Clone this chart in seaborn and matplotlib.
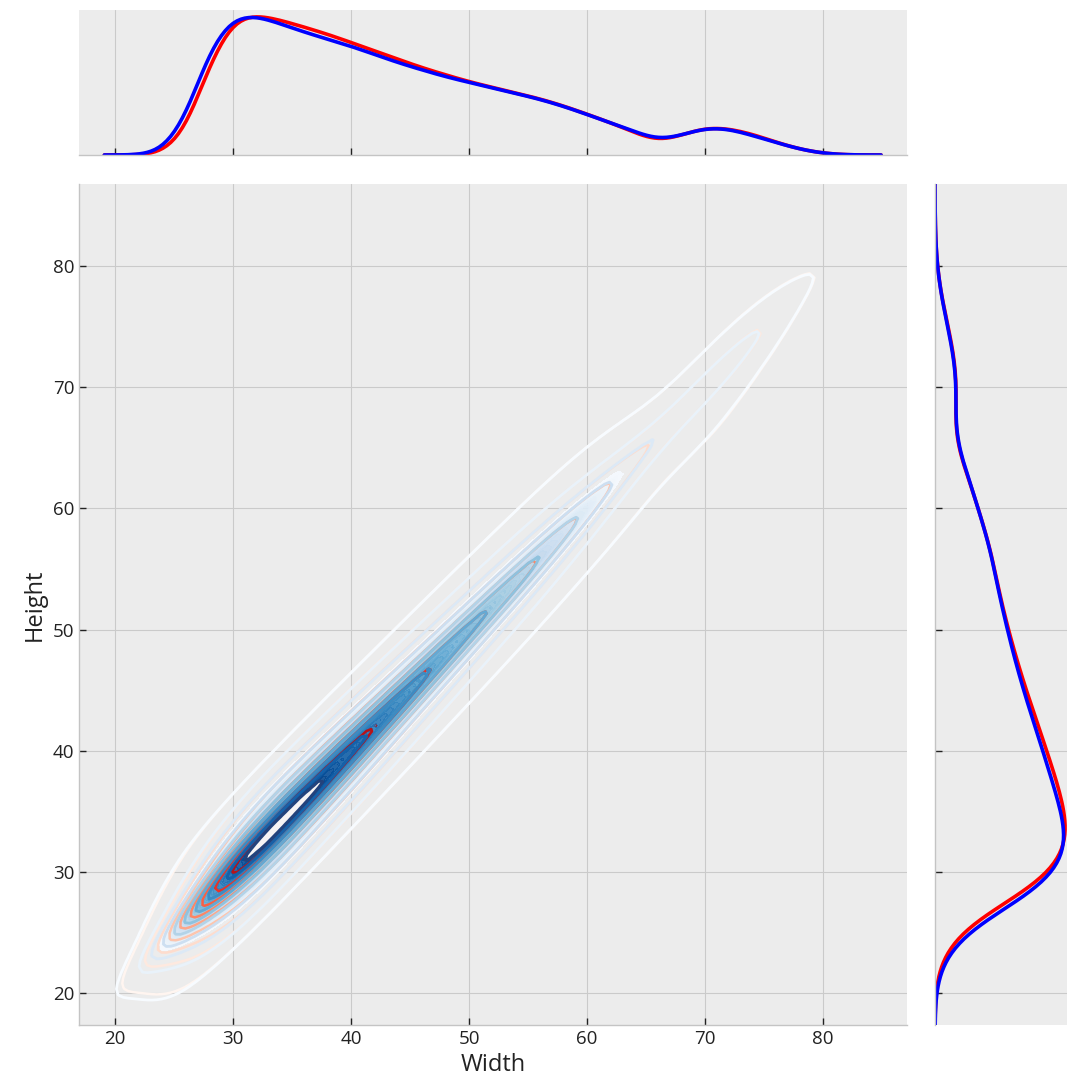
import numpy as np
import pandas as pd
import matplotlib
matplotlib.use("Agg")
import matplotlib.pyplot as plt
from matplotlib.colors import ListedColormap
import seaborn as sns

# ---------------- data ----------------
widths = [24, 26, 28, 30, 32, 34, 36, 38, 40, 42, 44, 46, 48, 50, 52,
          54, 56, 58, 60, 62, 64, 66, 68, 70, 72, 74, 76, 78, 80]
red_weights = [0.01, 0.15, 0.66, 0.98, 1.00, 0.96, 0.91, 0.86, 0.80, 0.74,
               0.68, 0.62, 0.57, 0.52, 0.48, 0.44, 0.40, 0.35, 0.29, 0.23,
               0.16, 0.09, 0.14, 0.20, 0.19, 0.15, 0.09, 0.04, 0.01]
blue_weights = [0.02, 0.24, 0.78, 1.00, 1.00, 0.94, 0.88, 0.83, 0.78, 0.72,
                0.66, 0.61, 0.56, 0.52, 0.48, 0.44, 0.40, 0.35, 0.29, 0.23,
                0.17, 0.10, 0.14, 0.20, 0.19, 0.14, 0.09, 0.04, 0.01]
height_offsets = [-10, -9, -8, -7, -6, -5, -4, -3, -2, -1, 0, 1, 2, 3, 4, 5, 6]
# share of each width's mass at each height offset (main / large widths)
profile_main = [0.0, 0.0, 0.0, 0.0, 0.015, 0.025, 0.04, 0.06, 0.09, 0.15,
                0.24, 0.15, 0.09, 0.06, 0.04, 0.025, 0.015]
profile_large = [0.02, 0.025, 0.03, 0.035, 0.04, 0.04, 0.045, 0.06, 0.09,
                 0.13, 0.20, 0.12, 0.075, 0.04, 0.025, 0.015, 0.01]
large_from_width = 64


def build(weights):
    rows = []
    for w, wt in zip(widths, weights):
        prof = profile_large if w >= large_from_width else profile_main
        for o, p in zip(height_offsets, prof):
            if p > 0:
                rows.append((w, w + o, wt * p))
    return pd.DataFrame(rows, columns=["Width", "Height", "weight"])


red = build(red_weights)
blue = build(blue_weights)

# ---------------- style ----------------
sns.set_style("whitegrid")
plt.rcParams.update({
    "font.family": ["Open Sans", "DejaVu Sans"],
    "axes.facecolor": "#ececec",
    "axes.edgecolor": "#c4c4c4",
    "axes.linewidth": 1.0,
    "grid.color": "#cacaca",
    "grid.linewidth": 0.8,
    "grid.linestyle": "-",
    "xtick.direction": "in",
    "ytick.direction": "in",
    "xtick.color": "#222222",
    "ytick.color": "#222222",
    "xtick.major.size": 5,
    "ytick.major.size": 5,
    "xtick.major.width": 1.0,
    "ytick.major.width": 1.0,
    "xtick.bottom": True,
    "ytick.left": True,
    "xtick.labelsize": 13.5,
    "ytick.labelsize": 13.5,
    "axes.labelsize": 17,
    "text.color": "#222222",
    "axes.labelcolor": "#222222",
})

g = sns.JointGrid(height=10)
g.figure.set_size_inches(10.67, 10.83)
ax = g.ax_joint
mx = g.ax_marg_x
my = g.ax_marg_y

W, H = 1067.0, 1083.0
ax.set_position([79 / W, (H - 1025) / H, 828 / W, 841 / H])
mx.set_position([79 / W, (H - 155) / H, 828 / W, 145 / H])
my.set_position([935 / W, (H - 1025) / H, 132 / W, 841 / H])

# joint KDEs
bw_joint = 0.65
kw = dict(x="Width", y="Height", weights="weight", ax=ax, bw_adjust=bw_joint)
sns.kdeplot(data=red, fill=False, cmap="Reds", levels=10, thresh=0.05,
            linewidths=1.8, **kw)
sns.kdeplot(data=blue, fill=False, cmap="Blues", levels=10, thresh=0.05,
            linewidths=2.0, **kw)
sns.kdeplot(data=blue, fill=True, cmap="Blues", levels=60, thresh=0.33,
            alpha=0.9, **kw)
sns.kdeplot(data=blue, fill=True, cmap=ListedColormap(["#f6f3f5"]),
            levels=[0.96, 1.0], **kw)
sns.kdeplot(data=blue, fill=False, cmap=ListedColormap(["#23427c"]),
            levels=[0.96], linewidths=2.2, **kw)

# marginals
bw_marg = 0.32
sns.kdeplot(data=red, x="Width", weights="weight", ax=mx, color="red",
            lw=2.6, bw_adjust=bw_marg)
sns.kdeplot(data=blue, x="Width", weights="weight", ax=mx, color="blue",
            lw=2.6, bw_adjust=bw_marg)
sns.kdeplot(data=red, y="Height", weights="weight", ax=my, color="red",
            lw=2.6, bw_adjust=bw_marg)
sns.kdeplot(data=blue, y="Height", weights="weight", ax=my, color="blue",
            lw=2.6, bw_adjust=bw_marg)

ax.set_xlim(16.95, 87.1)
ax.set_ylim(17.36, 86.77)
ax.set_xticks([20, 30, 40, 50, 60, 70, 80])
ax.set_yticks([20, 30, 40, 50, 60, 70, 80])
ax.set_xlabel("Width")
ax.set_ylabel("Height")
ax.grid(True)

top = mx.get_ylim()[1]
mx.set_ylim(0, top)
right = my.get_xlim()[1] / 1.05 * 1.015
my.set_xlim(0, right)
mx.set_xlabel("")
mx.set_ylabel("")
my.set_xlabel("")
my.set_ylabel("")
mx.yaxis.grid(False)
my.xaxis.grid(False)
mx.xaxis.grid(True)
my.yaxis.grid(True)
for s in ["top", "right"]:
    ax.spines[s].set_visible(False)
for s in ["top", "right", "left"]:
    mx.spines[s].set_visible(False)
for s in ["top", "right", "bottom"]:
    my.spines[s].set_visible(False)
mx.tick_params(axis="y", left=False, labelleft=False)
my.tick_params(axis="x", bottom=False, labelbottom=False)
mx.tick_params(axis="x", labelbottom=False)
my.tick_params(axis="y", labelleft=False)

g.figure.savefig("out.png", dpi=100)
